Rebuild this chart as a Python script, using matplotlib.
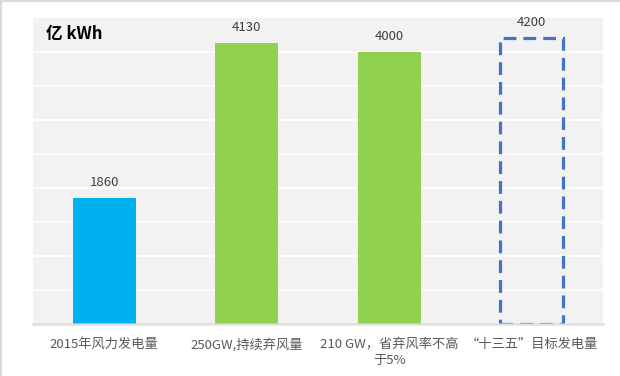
import matplotlib
matplotlib.use("Agg")
import matplotlib.pyplot as plt
from matplotlib.lines import Line2D

plt.rcParams['font.family'] = ['Noto Sans CJK SC', 'DejaVu Sans']

categories = ["2015年风力发电量", "250GW,持续弃风量", "210 GW，省弃风率不高\n于5%", "“十三五”目标发电量"]
values = [1860, 4130, 4000, 4200]
colors = ["#00b0f0", "#92d050", "#92d050", "none"]
unit_label = "亿 kWh"
y_max = 4500
y_step = 500

fig = plt.figure(figsize=(6.2, 3.76), dpi=100)
fig.patch.set_facecolor("white")
ax = fig.add_axes([33/620, 1 - 324.3/376, 570/620, (324.3 - 17.7)/376])
ax.set_facecolor("#f2f2f2")

x = list(range(len(categories)))
width = 0.44
solid_x = [i for i in x if colors[i] != "none"]
ax.bar(solid_x, [values[i] for i in solid_x], width=width,
       color=[colors[i] for i in solid_x], zorder=3)
# target bar (dashed outline)
target_idx = [i for i in x if colors[i] == "none"]
ax.bar(target_idx, [values[i] for i in target_idx], width=width,
       facecolor="none", edgecolor="#4472c4", linewidth=2.3,
       linestyle=(0, (4, 2.2)), zorder=3)

for i, v in zip(x, values):
    ax.annotate(f"{v}", xy=(i, v), xytext=(0, 11), textcoords="offset points",
                ha="center", va="center", fontsize=9.5, color="#404040")

ax.set_xlim(-0.5, len(categories) - 0.5)
ax.set_ylim(0, y_max)
ax.set_yticks(range(y_step, y_max, y_step))
ax.yaxis.grid(True, color="white", linewidth=1.2, zorder=1)
ax.set_axisbelow(True)
ax.tick_params(axis="y", left=False, labelleft=False)
ax.set_xticks(x)
ax.set_xticklabels(categories, fontsize=9.5, color="#595959", linespacing=1.35)
ax.tick_params(axis="x", length=0, pad=9.5)
for s in ["top", "right", "left"]:
    ax.spines[s].set_visible(False)
ax.spines["bottom"].set_color("#d9d9d9")
ax.spines["bottom"].set_alpha(0.8)
ax.spines["bottom"].set_linewidth(1.8)
ax.spines["bottom"].set_zorder(5)

ax.text((46 - 33)/570, 1 - (34 - 17.7)/306.6, unit_label, transform=ax.transAxes,
        ha="left", va="center", fontsize=12, fontweight="bold", color="black")

# figure border (top & left)
fig.add_artist(Line2D([0, 1], [1 - 1/376, 1 - 1/376], color="#d9d9d9", linewidth=1.5, transform=fig.transFigure))
fig.add_artist(Line2D([1/620, 1/620], [0, 1], color="#d9d9d9", linewidth=1.5, transform=fig.transFigure))

fig.savefig("out.png", dpi=100, facecolor="white")
